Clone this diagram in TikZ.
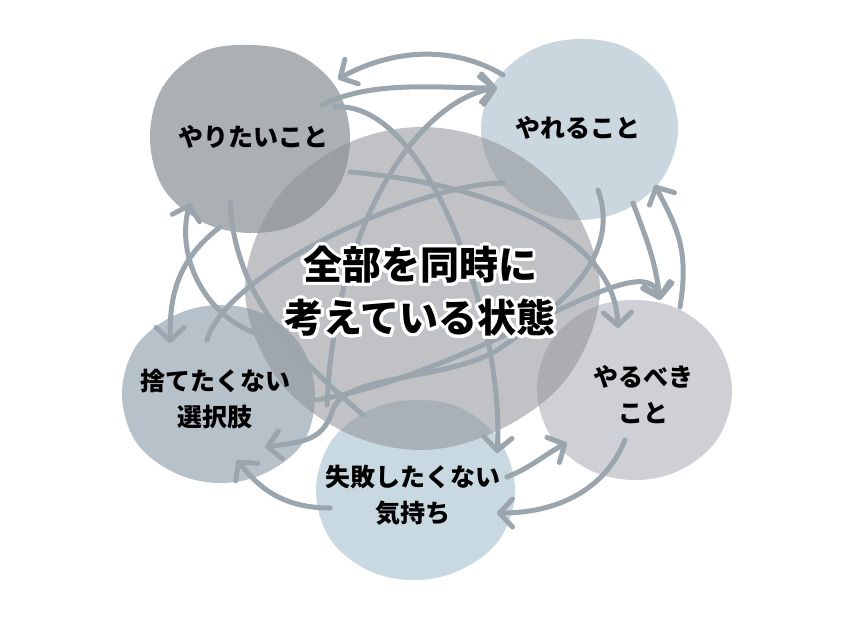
\documentclass[tikz,border=0pt]{standalone}
\usepackage{fontspec}
\usepackage{contour}
\usetikzlibrary{arrows.meta,calc}
\newfontfamily\jpfont{Noto Sans CJK JP}
\definecolor{wantcol}{RGB}{171,176,181}
\definecolor{cancol}{RGB}{202,215,222}
\definecolor{discardcol}{RGB}{182,193,201}
\definecolor{shouldcol}{RGB}{207,208,213}
\definecolor{fearcol}{RGB}{201,217,225}
\definecolor{corecol}{RGB}{142,145,150}
\definecolor{linkcol}{RGB}{155,165,173}
\contourlength{3pt}
\contournumber{40}
\pgfdeclarelayer{blobs}
\pgfdeclarelayer{links}
\pgfsetlayers{blobs,links,main}

\begin{document}
\begin{tikzpicture}[x=1pt, y=-1pt,
    label/.style={inner sep=0pt, align=center, font=\jpfont\bfseries\fontsize{25}{36}\selectfont},
    title/.style={inner sep=0pt, align=center, font=\jpfont\bfseries\fontsize{39}{53}\selectfont},
    blob/.style={smooth cycle, tension=0.6},
    link/.style={draw=linkcol, line width=5pt, line cap=round},
    tip/.style={-{Straight Barb[length=13pt,width=28pt,round]}}]
  \begin{pgfonlayer}{blobs}
    \fill[white] (0,0) rectangle (849,618);
  \end{pgfonlayer}
  \useasboundingbox (0,0) rectangle (849,618);

  \node[label] (want) at (253,137) {やりたいこと};
  \node[label] (can) at (578,128) {やれること};
  \node[label] (discard) at (215,399) {捨てたくない\\選択肢};
  \node[label] (should) at (643,395) {やるべき\\こと};
  \node[label] (fear) at (413,495) {失敗したくない\\気持ち};
  \node[title] (core) at (420,293) {\contour{white}{全部を同時に}\\\contour{white}{考えている状態}};

  \begin{pgfonlayer}{blobs}
    \fill[wantcol, shift={(want)}, shift={(-2,1)}] plot[blob] coordinates {(0:99) (30:100) (60:98) (90:95) (120:97) (150:101) (180:101) (210:102) (240:99) (270:93) (300:96) (330:99)};
    \fill[cancol, shift={(can)}, shift={(1,1)}] plot[blob] coordinates {(0:99) (30:97) (60:93) (90:91) (120:93) (150:96) (180:98) (210:96) (240:92) (270:90) (300:94) (330:98)};
    \fill[discardcol, shift={(discard)}, shift={(3,-5)}] plot[blob] coordinates {(0:97) (30:98) (60:92) (90:89) (120:90) (150:95) (180:96) (210:95) (240:90) (270:89) (300:92) (330:96)};
    \fill[shouldcol, shift={(should)}, shift={(-8,-5)}] plot[blob] coordinates {(0:97) (30:96) (60:92) (90:90) (120:92) (150:96) (180:98) (210:97) (240:93) (270:90) (300:92) (330:95)};
    \fill[fearcol, shift={(fear)}, shift={(2,-5)}] plot[blob] coordinates {(0:100) (30:98) (60:92) (90:90) (120:93) (150:98) (180:99) (210:97) (240:92) (270:90) (300:94) (330:98)};
    \fill[corecol, fill opacity=0.55, shift={(core)}, shift={(2,-3)}] plot[blob] coordinates {(0:178) (30:170) (60:160) (90:160) (120:162) (150:170) (180:177) (210:172) (240:165) (270:163) (300:165) (330:172)};
  \end{pgfonlayer}

  \begin{pgfonlayer}{links}
    \draw[link, tip] ($(can)+(-75,-53)$) .. controls +(-50,-30) and +(55,-30) .. ($(want)+(85,-58)$);
    \draw[link, tip] ($(want)+(69,-32)$) .. controls +(50,-25) and +(-60,0) .. ($(can)+(-81,-40)$);
    \draw[link, tip] ($(core)+(-93,112)$) .. controls +(8,-185) and +(-77,12) .. ($(can)+(-81,-40)$);
    \draw[link, tip] ($(discard)+(52,-62)$) .. controls +(-60,-15) and +(-15,55) .. ($(want)+(-63,66)$);
    \draw[link, tip] ($(want)+(-33,90)$) .. controls +(-45,35) and +(0,-45) .. ($(discard)+(-45,-56)$);
    \draw[link] ($(want)+(-23,65)$) .. controls +(5,98) and +(-63,-55) .. ($(fear)+(-50,-80)$);
    \draw[link] ($(discard)+(-8,-59)$) .. controls +(20,-70) and +(-80,0) .. ($(can)+(-75,55)$);
    \draw[link, tip] ($(want)+(97,35)$) .. controls +(150,13) and +(-3,-88) .. ($(should)+(-25,-67)$);
    \draw[link, tip] ($(want)+(82,-30)$) .. controls +(95,-7) and +(8,-123) .. ($(fear)+(84,-42)$);
    \draw[link, tip] ($(can)+(55,75)$) .. controls +(15,40) and +(-5,-40) .. ($(should)+(17,-95)$);
    \draw[link, tip] ($(discard)+(102,1)$) .. controls +(170,-30) and +(-15,-60) .. ($(should)+(17,-95)$);
    \draw[link, tip] ($(should)+(37,-88)$) .. controls +(10,-60) and +(20,40) .. ($(can)+(77,57)$);
    \draw[link, tip] ($(should)+(-18,45)$) .. controls +(-20,50) and +(60,0) .. ($(fear)+(84,18)$);
    \draw[link, tip] ($(fear)+(94,-18)$) .. controls +(25,-10) and +(-20,10) .. ($(should)+(-76,48)$);
    \draw[link, tip] ($(fear)+(-83,13)$) .. controls +(-50,0) and +(20,25) .. ($(discard)+(22,61)$);
    \draw[link, tip] ($(can)+(20,62)$) .. controls +(25,70) and +(50,-35) .. ($(core)+(82,54)$)
      .. controls +(-50,35) and +(10,-40) .. ($(discard)+(117,13)$)
      .. controls +(-10,30) and +(35,-5) .. ($(discard)+(50,48)$);
  \end{pgfonlayer}
\end{tikzpicture}
\end{document}
